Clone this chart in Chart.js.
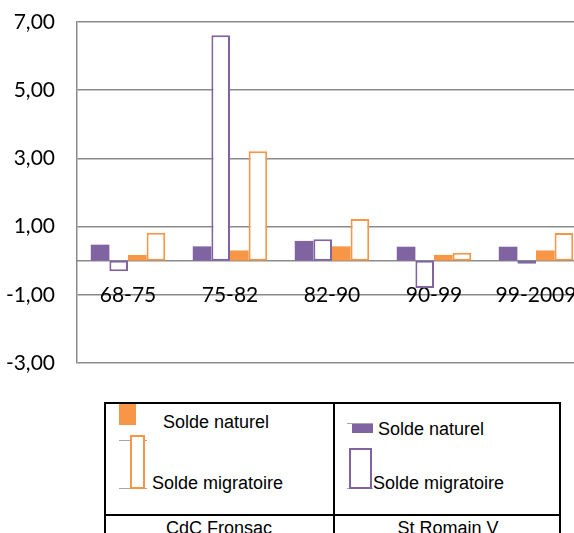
<!DOCTYPE html>
<html>
<head>
<meta charset="utf-8">
<script src="https://cdn.jsdelivr.net/npm/chart.js@4.4.0/dist/chart.umd.min.js"></script>
<style>
  html, body { margin: 0; padding: 0; background: #fff; }
  body { width: 574px; height: 533px; overflow: hidden; position: relative; }
  #chartBox { position: absolute; left: 0; top: 0; }
  .lg { position: absolute; font-family: "Liberation Sans", Arial, sans-serif; font-size: 18px; line-height: 18px; color: #000; white-space: nowrap; }
  .box { position: absolute; box-sizing: border-box; }
  .line { position: absolute; height: 1px; background: #a6a6a6; }
</style>
</head>
<body>
<canvas id="chartBox" width="600" height="385"></canvas>
<div id="legend"></div>
<script>
const periods = ['68-75', '75-82', '82-90', '90-99', '99-2009'];
const groupNames = ['CdC Fronsac', 'St Romain V'];
const seriesNames = ['Solde naturel', 'Solde migratoire'];
const yTicks = [-3, -1, 1, 3, 5, 7];

const romainNaturel = [0.47, 0.42, 0.58, 0.41, 0.41];
const romainMigratoire = [-0.31, 6.61, 0.63, -0.80, -0.09];
const fronsacNaturel = [0.17, 0.30, 0.42, 0.17, 0.30];
const fronsacMigratoire = [0.82, 3.21, 1.22, 0.23, 0.81];

const purple = '#8064A2';
const orange = '#F79646';
const gridGrey = '#8a8a8a';

function filled(label, data, color) {
  return { label: label, data: data, backgroundColor: color, borderWidth: 0 };
}
function outlined(label, data, color) {
  return { label: label, data: data, backgroundColor: '#ffffff', borderColor: color, borderWidth: 2, borderSkipped: false };
}

new Chart(document.getElementById('chartBox'), {
  type: 'bar',
  data: {
    labels: periods,
    datasets: [
      filled(groupNames[1] + ' ' + seriesNames[0], romainNaturel, purple),
      outlined(groupNames[1] + ' ' + seriesNames[1], romainMigratoire, purple),
      filled(groupNames[0] + ' ' + seriesNames[0], fronsacNaturel, orange),
      outlined(groupNames[0] + ' ' + seriesNames[1], fronsacMigratoire, orange)
    ]
  },
  options: {
    responsive: false,
    animation: false,
    layout: { padding: { top: 22, right: 13, bottom: 22, left: 0 } },
    datasets: { bar: { categoryPercentage: 0.73, barPercentage: 1 } },
    plugins: { legend: { display: false }, tooltip: { enabled: false } },
    scales: {
      x: {
        position: { y: 0 },
        afterFit: (scale) => { scale.height = 0; },
        grid: { display: false, drawTicks: false },
        border: { display: true, color: gridGrey, width: 1.5 },
        ticks: { color: '#000', padding: 22, font: { family: 'Lato', size: 21 } }
      },
      y: {
        min: yTicks[0],
        max: yTicks[yTicks.length - 1],
        afterBuildTicks: (scale) => { scale.ticks = yTicks.map(v => ({ value: v })); },
        afterFit: (scale) => {
          scale.width = 77;
          scale.paddingTop = 0;
          scale.paddingBottom = 0;
        },
        grid: { color: gridGrey, lineWidth: 1.5, drawTicks: false },
        border: { display: true, color: gridGrey, width: 1.5 },
        ticks: {
          color: '#000',
          padding: 22,
          font: { family: 'Lato', size: 21 },
          callback: (v) => v.toFixed(2).replace('.', ',')
        }
      }
    }
  }
});

// legend table drawn as html below the chart
const legend = document.getElementById('legend');
function add(cls, css, text) {
  const el = document.createElement('div');
  el.className = cls;
  el.style.cssText = css;
  if (text) el.textContent = text;
  legend.appendChild(el);
  return el;
}
// frame
add('box', 'left:104px;top:402px;width:457px;height:140px;border:2px solid #000;');
add('box', 'left:333px;top:402px;width:2px;height:140px;background:#000;');
add('box', 'left:104px;top:514px;width:457px;height:2px;background:#000;');

// CdC Fronsac cell
add('box', 'left:119px;top:404px;width:17px;height:21px;background:' + orange + ';');
add('lg', 'left:163px;top:413px;', seriesNames[0]);
add('line', 'left:119px;top:440px;width:28px;');
add('line', 'left:119px;top:488px;width:28px;');
add('box', 'left:130px;top:435px;width:15px;height:54px;border:2px solid ' + orange + ';background:#fff;');
add('lg', 'left:152px;top:474px;', seriesNames[1]);
add('lg', 'left:104px;top:519px;width:230px;text-align:center;', groupNames[0]);

// St Romain V cell
add('line', 'left:347px;top:423px;width:26px;');
add('box', 'left:352px;top:424px;width:21px;height:9px;background:' + purple + ';');
add('lg', 'left:378px;top:420px;', seriesNames[0]);
add('line', 'left:347px;top:488px;width:26px;');
add('box', 'left:349px;top:448px;width:23px;height:41px;border:2px solid ' + purple + ';background:#fff;');
add('lg', 'left:373px;top:474px;', seriesNames[1]);
add('lg', 'left:335px;top:519px;width:226px;text-align:center;', groupNames[1]);
</script>
</body>
</html>
